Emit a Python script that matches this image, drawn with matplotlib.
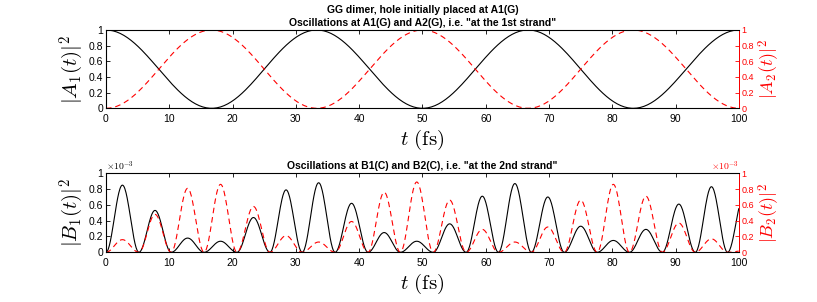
import numpy as np
import matplotlib
matplotlib.use("Agg")
import matplotlib.pyplot as plt

plt.rcParams['font.family'] = ['Liberation Sans', 'DejaVu Sans']
plt.rcParams['mathtext.fontset'] = 'cm'

# top panel: turning points of the populations (time in fs)
a_times = [0, 16.7, 33.3, 50.0, 66.7, 83.3, 100.0]
a1_vals = [1, 0, 1, 0, 1, 0, 1]
a2_vals = [0, 1, 0, 1, 0, 1, 0]

# bottom panel: nodes of the fast oscillation and the height of each lobe (x1e-3)
b_nodes = [0, 5.2, 10.3, 15.5, 20.7, 25.9, 31.0, 36.2, 41.4, 46.5, 51.7,
           56.9, 62.0, 67.2, 72.4, 77.6, 82.7, 87.9, 93.1, 98.2, 103.4]
b1_peaks = [0.85, 0.53, 0.18, 0.14, 0.44, 0.79, 0.88, 0.62, 0.25, 0.14,
            0.36, 0.71, 0.87, 0.70, 0.33, 0.15, 0.29, 0.61, 0.83, 0.72]
b2_peaks = [0.16, 0.48, 0.81, 0.86, 0.58, 0.21, 0.13, 0.39, 0.76, 0.89,
            0.66, 0.29, 0.13, 0.32, 0.66, 0.86, 0.71, 0.37, 0.17, 0.02]

xticks = [0, 10, 20, 30, 40, 50, 60, 70, 80, 90, 100]
yticks = [0, 0.2, 0.4, 0.6, 0.8, 1]
ylabels = ['0', '0.2', '0.4', '0.6', '0.8', '1']


def smooth_turns(times, vals, n=60):
    # half-cosine between successive turning points
    ts, ys = [], []
    for i in range(len(times) - 1):
        s = np.linspace(0, 1, n)
        ts.append(times[i] + (times[i + 1] - times[i]) * s)
        ys.append(vals[i] + (vals[i + 1] - vals[i]) * (1 - np.cos(np.pi * s)) / 2)
    return np.concatenate(ts), np.concatenate(ys)


def lobes(nodes, peaks, n=60):
    ts, ys = [], []
    for i in range(len(peaks)):
        s = np.linspace(0, 1, n)
        ts.append(nodes[i] + (nodes[i + 1] - nodes[i]) * s)
        ys.append(peaks[i] * np.sin(np.pi * s) ** 2)
    t = np.concatenate(ts)
    y = np.concatenate(ys)
    keep = t <= 100
    return t[keep], y[keep]


def style(ax, axr, left_label, right_label):
    ax.set_xlim(0, 100)
    ax.set_ylim(0, 1)
    axr.set_ylim(0, 1)
    ax.set_xticks(xticks)
    ax.set_xticklabels([str(x) for x in xticks], fontsize=7.5)
    ax.set_yticks(yticks)
    ax.set_yticklabels(ylabels, fontsize=7.5)
    axr.set_yticks(yticks)
    axr.set_yticklabels(ylabels, fontsize=6.5, color='r')
    ax.tick_params(direction='in', top=True, length=3, width=0.6, pad=2)
    ax.tick_params(axis='x', pad=4)
    axr.tick_params(direction='in', length=3, width=0.6, colors='r', pad=2)
    for sp in ax.spines.values():
        sp.set_linewidth(0.7)
    axr.spines['right'].set_color('r')
    axr.spines['right'].set_linewidth(0.7)
    ax.set_ylabel(left_label, fontsize=15, labelpad=2)
    axr.set_ylabel(right_label, fontsize=13, color='r', rotation=90, labelpad=2)
    ax.set_xlabel(r'$t\ (\mathrm{fs})$', fontsize=15, labelpad=3)


fig = plt.figure(figsize=(8.17, 3.02), dpi=100)

ax1 = fig.add_axes([0.1297, 0.6414, 0.7748, 0.2593])
ax1r = ax1.twinx()
t, y = smooth_turns(a_times, a1_vals)
ax1.plot(t, y, color='k', lw=0.8)
t, y = smooth_turns(a_times, a2_vals)
ax1r.plot(t, y, color='r', lw=0.8, ls=(0, (5, 3.5)))
style(ax1, ax1r, r'$|A_1(t)|^2$', r'$|A_2(t)|^2$')
ax1.set_title('GG dimer, hole initially placed at A1(G)\n'
              'Oscillations at A1(G) and A2(G), i.e. "at the 1st strand"',
              fontsize=7.5, fontweight='bold', pad=3, linespacing=1.3)

ax2 = fig.add_axes([0.1297, 0.1646, 0.7748, 0.2616])
ax2r = ax2.twinx()
t, y = lobes(b_nodes, b1_peaks)
ax2.plot(t, y, color='k', lw=0.8)
t, y = lobes(b_nodes, b2_peaks)
ax2r.plot(t, y, color='r', lw=0.8, ls=(0, (5, 3.5)))
style(ax2, ax2r, r'$|B_1(t)|^2$', r'$|B_2(t)|^2$')
ax2.set_title('Oscillations at B1(C) and B2(C), i.e. "at the 2nd strand"',
              fontsize=7.5, fontweight='bold', pad=3)
ax2.text(0.0, 1.0, r'$\times10^{-3}$', transform=ax2.transAxes,
         fontsize=7, ha='left', va='bottom')
ax2r.text(1.0, 1.0, r'$\times10^{-3}$', transform=ax2r.transAxes,
          fontsize=7, ha='right', va='bottom', color='r')

fig.savefig('out.png', dpi=100)
